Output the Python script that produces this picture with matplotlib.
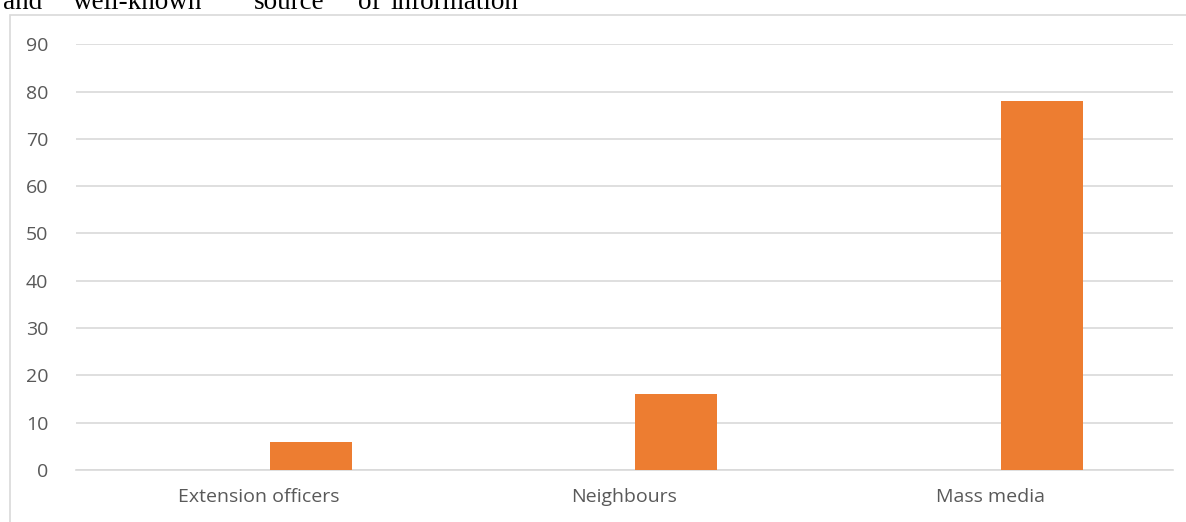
import matplotlib
matplotlib.use("Agg")
import matplotlib.pyplot as plt
from matplotlib.patches import Rectangle
import numpy as np

categories = ["Extension officers", "Neighbours", "Mass media"]
values = [6, 16, 78]
yticks = [0, 10, 20, 30, 40, 50, 60, 70, 80, 90]
header_words = ["and", "well-known", "source", "of", "information"]

W, H = 1186, 522
fig = plt.figure(figsize=(W / 100, H / 100), dpi=100)

# chart border
fig.patches.append(Rectangle((10 / W, -0.1), 1.2, (H - 15) / H + 0.1,
                             transform=fig.transFigure, fill=False,
                             edgecolor="#d9d9d9", linewidth=1.2))

# cropped header text from document
word_x = [3, 73, 254, 358, 390]
for wd, xx in zip(header_words, word_x):
    fig.text(xx / W, (H - 9) / H, wd, family="Liberation Serif", fontsize=19.5,
             color="black", va="baseline", ha="left")

ax = fig.add_axes([76 / W, (H - 470) / H, (1173 - 76) / W, (470 - 44.3) / H])
x = np.arange(len(categories))
ax.bar(x + 0.142, values, width=0.224, color="#ED7D31", zorder=3)
ax.set_xlim(-0.5, len(categories) - 0.5)
ax.set_ylim(0, 90)
ax.set_yticks(yticks)
ax.set_xticks(x)
ax.set_xticklabels(categories)
ax.grid(axis="y", color="#d9d9d9", linewidth=1.2, zorder=0)
for s in ["top", "right", "left"]:
    ax.spines[s].set_visible(False)
ax.spines["bottom"].set_color("#d9d9d9")
ax.spines["bottom"].set_linewidth(1.2)
ax.tick_params(axis="both", length=0, colors="#595959", labelsize=14)
ax.tick_params(axis="y", pad=20)
ax.tick_params(axis="x", pad=13)
for lab in ax.get_xticklabels() + ax.get_yticklabels():
    lab.set_family("Open Sans")
    lab.set_color("#595959")

fig.savefig("out.png", dpi=100)
